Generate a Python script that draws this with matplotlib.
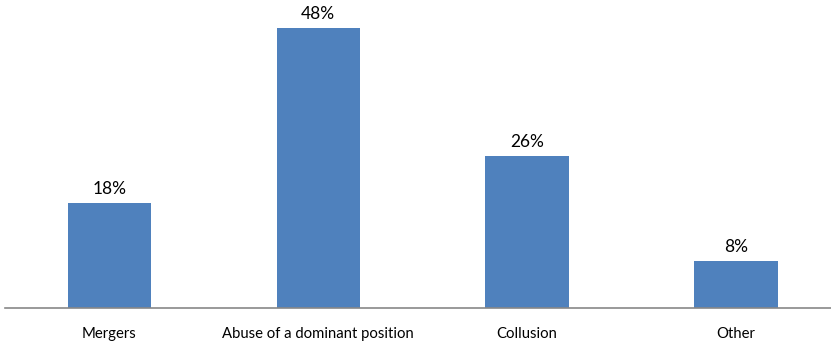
import matplotlib
matplotlib.use("Agg")
import matplotlib.pyplot as plt

categories = ["Mergers", "Abuse of a dominant position", "Collusion", "Other"]
values = [18, 48, 26, 8]
labels = ["18%", "48%", "26%", "8%"]

plt.rcParams['font.family'] = ['Lato', 'DejaVu Sans']

fig = plt.figure(figsize=(8.31, 3.49), dpi=100)
ax = fig.add_axes([5/831, 41/349, 826/831, 308/349])

x = range(len(categories))
bars = ax.bar(x, values, width=0.4, color="#4F81BD")
for b, lab in zip(bars, labels):
    ax.text(b.get_x() + b.get_width()/2, b.get_height() + 1.1, lab,
            ha="center", va="bottom", fontsize=12.5, color="black")

ax.set_xlim(-0.5, 3.455)
ax.set_ylim(0, 52.8)
ax.set_xticks(list(x))
ax.set_xticklabels(categories, fontsize=10.7)
ax.tick_params(axis="x", length=0, pad=14)
ax.set_yticks([])
for s in ["top", "left", "right"]:
    ax.spines[s].set_visible(False)
ax.spines["bottom"].set_color("#888888")
ax.spines["bottom"].set_linewidth(1.2)

fig.savefig("out.png", dpi=100)
